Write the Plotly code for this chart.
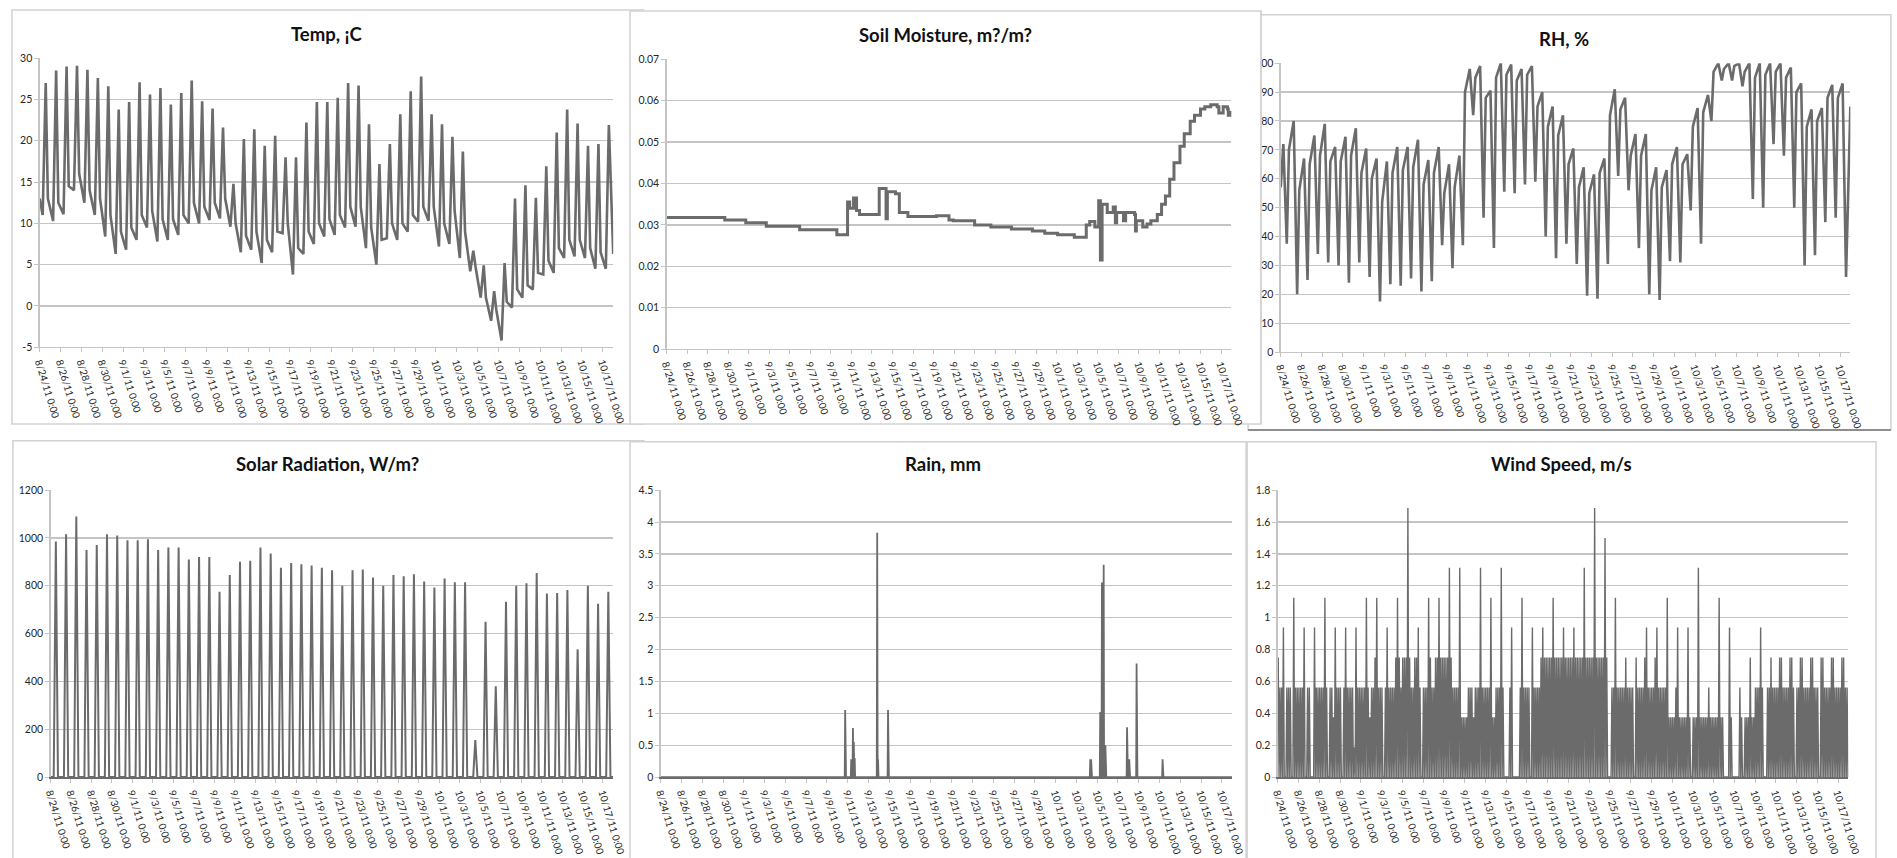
import pandas as pd
import plotly.graph_objects as go

W, H = 1897, 858
START = pd.Timestamp("2011-08-24 00:00")
END = pd.Timestamp("2011-10-18 00:00")
N_DAYS = 55

# ---------------- data ----------------
# Temperature, deg C: early-morning minimum, afternoon maximum, evening value
temp_min = [11.0, 10.3, 11.1, 14.0, 12.5, 11.0, 8.4, 6.3, 6.8, 8.0,
            9.5, 7.8, 8.0, 8.6, 10.0, 10.0, 10.4, 10.6, 9.6, 6.5,
            6.8, 5.2, 6.5, 8.8, 3.8, 6.3, 7.5, 8.4, 8.6, 9.5,
            9.6, 7.0, 5.0, 8.2, 8.0, 9.0, 10.2, 10.3, 7.2, 7.5,
            5.8, 4.2, 1.0, -1.8, -4.2, -0.2, 1.0, 2.0, 3.8, 4.0,
            5.8, 6.0, 5.8, 4.5, 4.5]
temp_max = [27.0, 28.5, 29.0, 29.1, 28.6, 27.6, 26.6, 23.8, 24.7, 27.1,
            25.6, 26.4, 24.4, 25.8, 27.3, 24.8, 23.9, 21.6, 14.8, 20.2,
            21.4, 19.4, 20.6, 18.0, 18.0, 22.2, 24.7, 24.7, 25.2, 27.0,
            26.7, 22.0, 17.2, 19.6, 23.2, 26.0, 27.8, 23.2, 22.0, 20.5,
            18.7, 6.7, 4.9, 1.8, 5.2, 13.0, 14.6, 13.1, 16.9, 21.0,
            23.8, 22.1, 19.4, 19.6, 21.9]
temp_eve = [13.0, 12.5, 14.5, 16.0, 14.0, 13.0, 11.0, 9.0, 9.5, 11.0,
            11.5, 10.5, 10.5, 11.0, 12.5, 12.0, 12.5, 13.0, 10.0, 8.5,
            9.0, 8.0, 9.0, 10.0, 7.0, 9.0, 10.0, 10.5, 11.0, 12.0,
            12.0, 9.5, 8.0, 10.0, 10.0, 11.0, 12.0, 12.0, 10.0, 11.5,
            9.0, 4.8, 1.0, -0.5, 0.5, 2.0, 2.5, 4.0, 5.5, 7.0,
            8.0, 8.0, 7.0, 6.5, 6.3]
temp_first = 13.0

# Soil moisture, m3/m3: change points (step series)
soil_time = ["2011-08-24 00:00", "2011-08-29 16:00", "2011-08-31 17:00", "2011-09-02 17:00",
             "2011-09-05 23:00", "2011-09-09 14:00", "2011-09-10 15:00", "2011-09-10 20:00",
             "2011-09-11 05:00", "2011-09-11 12:00", "2011-09-11 19:00", "2011-09-13 17:00",
             "2011-09-14 09:00", "2011-09-14 12:00", "2011-09-15 07:00", "2011-09-15 16:00",
             "2011-09-16 12:00", "2011-09-19 07:00", "2011-09-20 12:00", "2011-09-20 22:00",
             "2011-09-23 00:00", "2011-09-24 14:00", "2011-09-26 14:00", "2011-09-28 15:00",
             "2011-09-29 20:00", "2011-10-01 02:00", "2011-10-02 17:00", "2011-10-03 21:00",
             "2011-10-04 05:00", "2011-10-04 17:00", "2011-10-05 02:00", "2011-10-05 06:00",
             "2011-10-05 10:00", "2011-10-05 22:00", "2011-10-06 12:00", "2011-10-06 17:00",
             "2011-10-06 20:00", "2011-10-07 12:00", "2011-10-07 17:00", "2011-10-08 14:00",
             "2011-10-08 16:00", "2011-10-08 18:00", "2011-10-09 09:00", "2011-10-09 19:00",
             "2011-10-10 04:00", "2011-10-10 19:00", "2011-10-11 05:00", "2011-10-11 14:00",
             "2011-10-12 00:00", "2011-10-12 10:00", "2011-10-13 00:00", "2011-10-13 10:00",
             "2011-10-14 00:00", "2011-10-14 10:00", "2011-10-15 00:00", "2011-10-15 10:00",
             "2011-10-16 00:00", "2011-10-16 15:00", "2011-10-16 19:00", "2011-10-17 05:00",
             "2011-10-17 15:00", "2011-10-17 17:00", "2011-10-18 00:00"]
soil_val = [0.0318, 0.0312, 0.0305, 0.0297, 0.0288, 0.0276, 0.0355, 0.0340,
            0.0365, 0.0335, 0.0325, 0.0388, 0.0315, 0.0380, 0.0375, 0.0330,
            0.0320, 0.0322, 0.0312, 0.0310, 0.0300, 0.0295, 0.0290, 0.0285,
            0.0280, 0.0276, 0.0270, 0.0300, 0.0308, 0.0295, 0.0358, 0.0215,
            0.0350, 0.0330, 0.0343, 0.0305, 0.0330, 0.0310, 0.0330, 0.0325,
            0.0285, 0.0310, 0.0295, 0.0302, 0.0310, 0.0325, 0.0350, 0.0370,
            0.0410, 0.0450, 0.0490, 0.0520, 0.0550, 0.0565, 0.0580, 0.0585,
            0.0590, 0.0585, 0.0570, 0.0585, 0.0580, 0.0565, 0.0575]

# Relative humidity, %: early-morning maximum, afternoon minimum, evening value
rh_max = [72, 80, 67, 75, 79, 71, 74.5, 77.5, 70.5, 67,
          66, 71, 71, 73.5, 66.5, 71, 65, 68, 98, 99,
          90.5, 100, 99.5, 98, 99, 90, 85, 82, 70.5, 64,
          61.5, 67, 91, 88, 75.5, 75.5, 64, 63, 71, 68.5,
          84.5, 89, 100, 100, 100, 100, 100, 100, 100, 98.5,
          93, 84, 84.5, 92.5, 93]
rh_min = [37.5, 20, 25, 34, 31, 30, 24, 31, 26, 17.5,
          23.5, 23, 25.5, 21, 24.5, 37, 29, 37, 82, 46.5,
          36, 55.5, 55, 58, 59, 40, 32.5, 37.5, 30.5, 19.5,
          18.5, 30.5, 61, 56, 36, 20, 18, 31.5, 31, 49,
          37.5, 80, 94, 94, 92, 53, 50, 72, 68, 50,
          30, 33.5, 45, 46.5, 26]
rh_eve = [70, 56, 65, 68, 66, 66, 68, 62, 60, 52,
          62, 63, 64, 58, 62, 55, 57, 90, 95, 88,
          95, 96, 94, 96, 85, 78, 75, 65, 57, 55,
          62, 82, 84, 68, 68, 56, 57, 65, 65, 78,
          83, 97, 98, 99, 97, 95, 96, 97, 95, 90,
          78, 80, 88, 88, 85]
rh_first = 57

# Solar radiation, W/m2: daily peak
solar_peak = [985, 1015, 1090, 950, 970, 1015, 1010, 990,
              990, 995, 950, 960, 960, 910, 920, 920, 775, 845,
              900, 905, 960, 935, 875, 895, 890, 885, 875, 865,
              800, 865, 868, 835, 800, 845, 840, 848, 818, 793,
              830, 815, 815, 155, 650, 380, 733, 800, 810, 853,
              768, 770, 782, 535, 800, 725, 775]

# Rain, mm: non-zero hourly totals (all other hours are 0)
rain_time = ["2011-09-10 18:00", "2011-09-11 08:00", "2011-09-11 12:00", "2011-09-11 14:00",
             "2011-09-11 16:00", "2011-09-13 20:00", "2011-09-13 22:00", "2011-09-14 21:00",
             "2011-10-04 08:00", "2011-10-04 10:00", "2011-10-05 07:00", "2011-10-05 11:00",
             "2011-10-05 13:00", "2011-10-05 15:00", "2011-10-05 19:00", "2011-10-07 21:00",
             "2011-10-08 00:00", "2011-10-08 02:00", "2011-10-08 19:00", "2011-10-11 07:00"]
rain_val = [1.05, 0.28, 0.77, 0.55, 0.30, 3.83, 0.28, 1.05, 0.28, 0.28,
            1.02, 3.05, 2.40, 3.33, 0.50, 0.78, 0.28, 0.28, 1.78, 0.28]

# Wind speed: 2-hourly readings per day, in sensor steps of 0.1875 m/s
WIND_STEP = 0.1875
wind_days = ["403030500030", "303000603030", "303030500030", "300000503030", "303030603000",
             "303020503030", "300030503030", "303010503030", "303030603020", "303040603030",
             "300030503030", "303040604030", "404040904030", "304040503000", "303030604030",
             "304040604040", "404040704030", "303030702020", "202030303020", "303030703030",
             "303030602020", "303030703000", "000030500000", "000030603030", "303000503030",
             "303040504040", "404040604040", "404040504040", "404040504040", "404040704040",
             "404040904040", "404040804000", "003030603030", "303030403030", "303000403030",
             "303040503030", "303040503030", "303030602020", "202030502020", "202020502000",
             "202020702020", "202020302020", "202020602020", "000000502000", "000000302000",
             "202020402020", "303030503000", "003030403030", "303040403030", "303040403000",
             "303040403030", "303040403030", "300040403030", "303040403030", "303040403030"]

# axis ticks
temp_ticks = [-5, 0, 5, 10, 15, 20, 25, 30]
soil_ticks = [0, 0.01, 0.02, 0.03, 0.04, 0.05, 0.06, 0.07]
soil_ticktext = ["0", "0.01", "0.02", "0.03", "0.04", "0.05", "0.06", "0.07"]
rh_ticks = [0, 10, 20, 30, 40, 50, 60, 70, 80, 90, 100]
solar_ticks = [0, 200, 400, 600, 800, 1000, 1200]
rain_ticks = [0, 0.5, 1, 1.5, 2, 2.5, 3, 3.5, 4, 4.5]
rain_ticktext = ["0", "0.5", "1", "1.5", "2", "2.5", "3", "3.5", "4", "4.5"]
wind_ticks = [0, 0.2, 0.4, 0.6, 0.8, 1.0, 1.2, 1.4, 1.6, 1.8]
wind_ticktext = ["0", "0.2", "0.4", "0.6", "0.8", "1", "1.2", "1.4", "1.6", "1.8"]

titles = ["Temp, \u00a1C", "Soil Moisture, m?/m?", "RH, %",
          "Solar Radiation, W/m?", "Rain, mm", "Wind Speed, m/s"]

# ---------------- build series ----------------
def at(day, hour):
    return START + pd.Timedelta(days=day, hours=hour)

temp_x, temp_y = [START], [temp_first]
for i in range(N_DAYS):
    temp_x += [at(i, 7), at(i, 14), at(i, 19) if i < N_DAYS - 1 else END]
    temp_y += [temp_min[i], temp_max[i], temp_eve[i]]

rh_x, rh_y = [START], [rh_first]
for i in range(N_DAYS):
    rh_x += [at(i, 6), at(i, 14), at(i, 19) if i < N_DAYS - 1 else END]
    rh_y += [rh_max[i], rh_min[i], rh_eve[i]]

sol_x, sol_y = [START], [0]
for i in range(N_DAYS):
    sol_x += [at(i, 7.5), at(i, 12.5), at(i, 17.5)]
    sol_y += [0, solar_peak[i], 0]
sol_x.append(END); sol_y.append(0)

rain_idx = pd.date_range(START, END, freq="h")
rain_series = pd.Series(0.0, index=rain_idx)
for t, v in zip(rain_time, rain_val):
    rain_series[pd.Timestamp(t)] = v

wind_x, wind_y = [], []
for i, s in enumerate(wind_days):
    for j, ch in enumerate(s):
        wind_x.append(at(i, 2 * j + 1))
        wind_y.append(int(ch) * WIND_STEP)

# ---------------- layout geometry (pixels) ----------------
areas = [(33, 613, 53, 346), (667, 1238, 54, 348), (1288, 1864, 58, 351),
         (44, 613, 491, 782), (661, 1239, 491, 782), (1285, 1862, 491, 782)]
title_pos = [(324, 28), (949, 29), (1574, 33), (324, 465), (946, 465), (1572, 465)]

LINE = "#6b6b6b"
GRID = "#c4c4c4"
FONT = "Lato"
TXT = "#262626"

fig = go.Figure()
series = [(temp_x, temp_y, 2.6, "linear"),
          (pd.to_datetime(soil_time), soil_val, 3.0, "hv"),
          (rh_x, rh_y, 2.6, "linear"),
          (sol_x, sol_y, 2.0, "linear"),
          (rain_series.index, rain_series.values, 1.8, "linear"),
          (wind_x, wind_y, 1.4, "linear")]
for k, (xs, ys, w, shape) in enumerate(series):
    fig.add_trace(go.Scatter(x=xs, y=ys, mode="lines", line=dict(color=LINE, width=w, shape=shape),
                             xaxis="x" if k == 0 else f"x{k+1}",
                             yaxis="y" if k == 0 else f"y{k+1}",
                             showlegend=False, hoverinfo="skip"))

yspecs = [
    dict(range=[-5, 30], tickvals=temp_ticks, ticktext=[str(v) for v in temp_ticks]),
    dict(range=[0, 0.07], tickvals=soil_ticks, ticktext=soil_ticktext),
    dict(range=[0, 100], tickvals=rh_ticks, ticktext=[str(v) for v in rh_ticks]),
    dict(range=[0, 1200], tickvals=solar_ticks, ticktext=[str(v) for v in solar_ticks]),
    dict(range=[0, 4.5], tickvals=rain_ticks, ticktext=rain_ticktext),
    dict(range=[0, 1.8], tickvals=wind_ticks, ticktext=wind_ticktext),
]

layout = dict(width=W, height=H, autosize=False, margin=dict(l=0, r=0, t=0, b=0, pad=0),
              paper_bgcolor="white", plot_bgcolor="rgba(0,0,0,0)", hovermode=False,
              font=dict(family=FONT, color=TXT, size=11))
for k, (l, r, t, b) in enumerate(areas):
    xname = "xaxis" if k == 0 else f"xaxis{k+1}"
    yname = "yaxis" if k == 0 else f"yaxis{k+1}"
    anchor_y = "y" if k == 0 else f"y{k+1}"
    anchor_x = "x" if k == 0 else f"x{k+1}"
    # bottom row series sit on zero, so the axis line shows the series colour
    xline_col, xline_w = (LINE, 2.0) if k >= 3 else (GRID, 1.3)
    layout[xname] = dict(domain=[l / W, r / W], anchor=anchor_y, type="date",
                         range=[START, END], tick0=START, dtick=2 * 86400000,
                         tickformat="%-m/%-d/%y %-H:%M", tickangle=73,
                         showgrid=False, zeroline=False, showline=True, linecolor=xline_col,
                         linewidth=xline_w, ticks="outside", ticklen=4, tickcolor=GRID,
                         tickfont=dict(family=FONT, size=10, color=TXT),
                         fixedrange=True)
    ys = yspecs[k]
    layout[yname] = dict(domain=[1 - b / H, 1 - t / H], anchor=anchor_x,
                         range=ys["range"], tickmode="array", tickvals=ys["tickvals"],
                         ticktext=ys["ticktext"], showgrid=True, gridcolor=GRID, gridwidth=1.3,
                         zeroline=False, showline=True, linecolor=GRID, linewidth=1.3,
                         ticks="outside", ticklen=4, tickcolor=GRID,
                         tickfont=dict(family=FONT, size=10.5, color=TXT),
                         fixedrange=True)

def px_rect(x0, x1, y0, y1, **kw):
    return dict(type="rect", xref="paper", yref="paper",
                x0=x0 / W, x1=x1 / W, y0=1 - y1 / H, y1=1 - y0 / H, **kw)

def px_line(x0, y0, x1, y1, **kw):
    return dict(type="line", xref="paper", yref="paper",
                x0=x0 / W, x1=x1 / W, y0=1 - y0 / H, y1=1 - y1 / H, **kw)

BORDER = dict(color="#d2d2d2", width=1.5)
shapes = [
    px_rect(1255, 1905, 9, 430, line=BORDER, fillcolor="white", layer="below"),
    px_line(1255, 430, 1905, 430, line=dict(color="#8e8e8e", width=2), layer="below"),
    px_rect(5, 644, 4, 424, line=BORDER, fillcolor="white", layer="below"),
    px_rect(630, 1268, 5, 424, line=BORDER, fillcolor="white", layer="below"),
    px_rect(6, 644, 441, 870, line=BORDER, fillcolor="white", layer="below"),
    px_rect(1254, 1890, 442, 870, line=BORDER, fillcolor="white", layer="below"),
    px_rect(630, 1253, 442, 870, line=BORDER, fillcolor="white", layer="below"),
    # right part of the Soil Moisture panel lies over the RH axis labels
    px_rect(1243, 1267.2, 6, 395, line=dict(width=0), fillcolor="white", layer="above"),
    px_line(1268, 5, 1268, 424, line=BORDER, layer="above"),
]
layout["shapes"] = shapes

annotations = []
for txt, (cx, cy) in zip(titles, title_pos):
    annotations.append(dict(text=f"<b>{txt}</b>", xref="paper", yref="paper",
                            x=cx / W, y=1 - cy / H, xanchor="center", yanchor="middle",
                            showarrow=False, font=dict(family=FONT, size=18.5, color="#111111")))
layout["annotations"] = annotations

fig.update_layout(**layout)
fig.write_html("out.html", config={"displayModeBar": False, "staticPlot": True},
               post_script="document.body.style.margin='0';document.body.style.overflow='hidden';")
